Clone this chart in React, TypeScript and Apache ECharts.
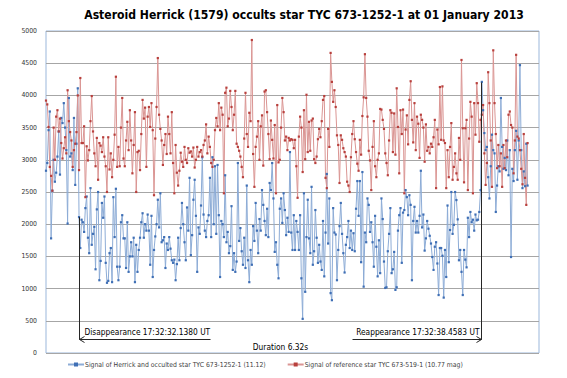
import React, { useEffect, useRef } from 'react';
import * as echarts from 'echarts';

const TITLE = 'Asteroid Herrick (1579) occults star TYC 673-1252-1 at 01 January 2013';
const SERIES_NAMES = [
  'Signal of Herrick and occulted star TYC 673-1252-1 (11.12)',
  'Signal of reference star TYC 673-519-1 (10.77 mag)',
];
const Y_MIN = 0;
const Y_MAX = 5000;
const Y_STEP = 500;
const X_MAX = 388;

const DISAPPEAR_INDEX = 26;
const REAPPEAR_INDEX = 342;
const REAPPEAR_LINE_TOP = 4200;
const ARROW_LEVEL = 217;
const DISAPPEAR_LABEL = 'Disappearance 17:32:32.1380 UT';
const REAPPEAR_LABEL = 'Reappearance 17:32:38.4583 UT';
const DURATION_LABEL = 'Duration 6.32s';

// Signal of Herrick + occulted star (frames 0..379)
const herrick = [
  2830, 2950, 3460, 3750, 1780, 2520, 3000, 2660, 2800, 3050,
  3440, 2770, 3650, 3570, 3880, 3500, 3150, 2010, 3960, 3050,
  3100, 2840, 3650, 2610, 3250, 4110,
  2110, 1630, 2070, 2030, 1880, 2250, 2430, 1790, 1550, 2560,
  1680, 1850, 1960, 1300, 2230, 2500, 1130, 1430, 2330, 2100,
  2430, 1400, 1090, 1120, 1550, 1630, 1100, 2420, 1800, 2550,
  1340, 1130, 1340, 2030, 2140, 1780, 1780, 1320, 2030, 1260,
  1500, 1720, 1500, 1790, 1100, 1680, 1260, 1600, 1790, 2030,
  2170, 1790, 2000, 1900, 2150, 1900, 1370, 2130, 1180, 1600,
  1810, 2000, 2380, 1950, 2480, 1720, 1750, 1800, 1320, 1700,
  1600, 1800, 1620, 1440, 1400, 1450, 1130, 1380, 1790, 1440,
  1940, 2330, 2000, 1720, 1440, 2260, 1900, 2720, 1520, 1830,
  2380, 2690, 2130, 1260, 1950, 1850, 2290, 3040, 2150, 1900,
  1800, 2050, 2140, 2720, 1800, 3040, 2000, 2900, 1850, 2920,
  2140, 1180, 2050, 2000, 1800, 2760, 1720, 1880, 1550, 1660,
  2280, 1290, 1550, 1260, 1420, 2950, 1740, 1940, 1580, 1370,
  1790, 1320, 2600, 1440, 1100, 1600, 1370, 1970, 1740, 2330,
  1900, 1550, 2080, 1900, 2530, 2300, 2050, 1830, 2240, 1800,
  2640, 2530, 2950, 2400, 1570, 1720, 1370, 1160, 2240, 2400,
  2020, 2480, 2220, 1830, 2100, 1880, 3120, 1870, 1600, 2140,
  1600, 2050, 1880, 1600, 2140, 1160, 530, 2480, 950, 1800,
  2380, 1780, 1550, 2580, 1370, 1580, 2220, 1790, 1400, 1680,
  1420, 1290, 2050, 1190, 1870, 2780, 1700, 2400, 930, 820,
  2250, 1870, 1840, 1130, 1600, 1970, 2330, 1850, 1550, 1250,
  1680, 1800, 2050, 1630, 1900, 1600, 1860, 1580, 2240, 2670,
  2130, 2670, 1410, 2810, 1030, 1870, 1720, 2400, 2300, 1880,
  2030, 1720, 1340, 2130, 1650, 1190, 1750, 1240, 2400, 2080,
  1420, 1010, 1020, 1580, 1850, 2250, 1240, 1300, 1570, 980,
  1020, 1900, 2140, 2250, 1400, 2180, 2220, 2530, 2420, 2140,
  2450, 2300, 1130, 2050, 2270, 1870, 2050, 1870, 2130, 2830,
  1950, 2150, 1590, 1780, 2050, 1930, 1820, 1700, 1490, 1290,
  1650, 1720, 1390, 900, 1630, 1630, 1510, 860, 1600, 1180,
  2290, 1410, 1910, 2500, 1850, 1990, 2500, 2375, 2075, 1440,
  1600, 1260, 900, 1600, 1450, 1330, 2100, 1800, 2190, 2030,
  2070, 1900, 2150, 2060, 2070, 2190, 2530,
  4210, 3770, 3415, 3150, 3200, 2730, 2400, 2900, 3390, 3150,
  3100, 2190, 2600, 2900, 2820, 3960, 3200, 2860, 3030, 2840,
  3300, 2760, 3150, 1490, 2860, 2670, 3150, 3450, 2690, 3300,
  4470, 3150, 2560, 2820, 2590, 3250, 2600,
];

// Signal of reference star (frames 0..379)
const reference = [
  3920, 3860, 3510, 2890, 2750, 2520, 3500, 3000, 3670, 3770,
  3440, 3640, 3260, 3020, 3180, 3350, 3100, 4080, 3600, 3430,
  3300, 2890, 3150, 3250, 3430, 4000, 2840, 4270, 3260, 3260,
  3520, 2420, 3210, 2990, 3150, 3600, 3990, 3440, 3100, 2900,
  3340, 2690, 3260, 3220, 3120, 3350, 3050, 2900, 2500, 3350,
  2850, 3100, 2730, 3000, 3390, 4290, 2890, 3200, 2900, 3500,
  3960, 3020, 2900, 3300, 3590, 3150, 3770, 3300, 2790, 3230,
  3740, 2500, 3120, 3140, 2840, 3400, 3930, 3640, 3810, 2890,
  3670, 3820, 3510, 3880, 3460, 2450, 3330, 3820, 4580, 3700,
  3480, 3300, 2920, 3230, 3400, 3090, 3670, 3400, 3100, 3740,
  2950, 2480, 3230, 2800, 2600, 2830, 3110, 2970, 2890, 3200,
  3000, 2950, 3180, 3110, 3130, 3050, 3190, 2880, 3000, 3200,
  3050, 3120, 3150, 3050, 3230, 3300, 3550, 3100, 3360, 3200,
  2950, 2890, 3000, 3460, 3650, 3520, 3880, 3460, 3810, 3700,
  2480, 4040, 4120, 3520, 3640, 4070, 3820, 3460, 3700, 4070,
  3250, 3200, 3140, 3050, 2890, 2730, 3330, 4040, 3400, 3200,
  3730, 3600, 4860, 3090, 2580, 3200, 3360, 3600, 3000, 3520,
  3690, 2910, 4060, 4080, 3740, 3400, 3010, 3610, 3310, 3020,
  3540, 2480, 3850, 2960, 3000, 3500, 3960, 3740, 3300, 3360,
  3150, 3340, 3300, 3320, 3310, 3180, 3310, 2900, 2410, 3360,
  3670, 3500, 2810, 3770, 3010, 4010, 3120, 3590, 3140, 3610,
  3640, 3010, 2950, 3050, 3320, 3480, 3350, 3600, 3930, 3990,
  2720, 2560, 3480, 3200, 4660, 4210, 3900, 4080, 3820, 3380,
  3230, 2640, 3380, 3310, 3180, 3120, 3050, 2660, 2600, 2500,
  3040, 3400, 3600, 3320, 3120, 2940, 2830, 3310, 3080, 3680,
  3970, 4640, 3960, 3670, 3140, 2990, 2530, 3200, 3600, 2900,
  2730, 3000, 3100, 3790, 3780, 3620, 3480, 3100, 2950, 2760,
  3300, 3770, 3730, 3120, 3720, 3080, 4110, 3510, 2790, 3770,
  3400, 3780, 2480, 3470, 3690, 3240, 3930, 4220, 3620, 3270,
  3880, 3150, 3670, 3560, 3030, 3700, 3620, 3500, 2970, 3550,
  3140, 3200, 3100, 3250, 3200, 3350, 3620, 2560, 3470, 3240,
  4130, 3310, 4140, 3300, 3260, 2560, 3150, 2730, 3200, 3570,
  2690, 2890, 3100, 2790, 2690, 3340, 3000, 4550, 3490, 2650,
  3490, 3620, 2530, 3330, 3900, 3670, 2480, 3880, 3390, 4190,
  3880, 3280, 3620, 3700, 3850, 3100, 2610, 2950, 4360, 3880,
  3300, 2580, 4700, 3880, 3400, 2870, 3230, 2900, 3100, 2580,
  3230, 2870, 3300, 3040, 3700, 3750, 3540, 3500, 2790, 3300,
  4630, 3360, 3330, 3150, 2860, 2620, 3400, 2720, 2300, 3260,
];

const NARROW = "'DejaVu Sans Condensed', 'Liberation Sans', sans-serif";

export default function App() {
  const ref = useRef<HTMLDivElement>(null);
  useEffect(() => {
    document.body.style.margin = '0';
    const chart = echarts.init(ref.current!, undefined, { renderer: 'svg' });
    const mkSeries = (name: string, data: number[], line: string, mark: string) => ({
      name,
      type: 'line',
      data: data.map((v, i) => [i, v]),
      showSymbol: true,
      showAllSymbol: true,
      symbol: 'rect',
      symbolSize: 2.2,
      itemStyle: { color: mark },
      lineStyle: { color: line, width: 1 },
      emphasis: { disabled: true },
      silent: true,
    });
    chart.setOption({
      animation: false,
      title: {
        text: TITLE,
        left: 299,
        top: 4,
        textAlign: 'center',
        textStyle: { fontFamily: NARROW, fontSize: 12.1, fontWeight: 'bold', color: '#000' },
      },
      grid: { left: 46, right: 28, top: 31, bottom: 25, show: true, borderColor: '#9BB7DB', borderWidth: 1 },
      xAxis: {
        type: 'value',
        min: 0,
        max: X_MAX,
        axisLine: { show: false },
        axisTick: { show: false },
        axisLabel: { show: false },
        splitLine: { show: false },
      },
      yAxis: {
        type: 'value',
        min: Y_MIN,
        max: Y_MAX,
        interval: Y_STEP,
        axisLine: { show: false },
        axisTick: { show: false },
        axisLabel: { fontFamily: NARROW, fontSize: 6.8, color: '#333', margin: 9, formatter: (v: number) => String(v) },
        splitLine: { lineStyle: { color: '#A6A6A6', width: 1 } },
      },
      legend: {
        bottom: 5,
        left: 62,
        itemGap: 21,
        itemWidth: 16,
        itemHeight: 5,
        textStyle: { fontFamily: NARROW, fontSize: 6.8, color: '#404040', padding: [0, 0, 0, -4] },
        data: SERIES_NAMES,
      },
      series: [
        mkSeries(SERIES_NAMES[0], herrick, '#8DACD6', '#3F6FB5'),
        mkSeries(SERIES_NAMES[1], reference, '#DA9593', '#B8403D'),
      ],
    });

    const px = (x: number, y: number) => chart.convertToPixel({ gridIndex: 0 }, [x, y]) as number[];
    const [dxr, dTop] = px(DISAPPEAR_INDEX, herrick[DISAPPEAR_INDEX]);
    const [rxr, rTop] = px(REAPPEAR_INDEX, REAPPEAR_LINE_TOP);
    const [, ayr] = px(0, ARROW_LEVEL);
    const dx = Math.round(dxr) + 0.5;
    const rx = Math.round(rxr) + 0.5;
    const ay = Math.round(ayr) + 0.5;
    const mid = (dx + rx) / 2;
    const stroke = '#262626';
    const lineStyle = { stroke, lineWidth: 1, fill: 'none' };
    const textFont = { fontFamily: NARROW, fontSize: 8.3, fill: '#000' };
    chart.setOption({
      graphic: [
        { type: 'line', z: 100, shape: { x1: dx, y1: dTop, x2: dx, y2: ay }, style: lineStyle },
        { type: 'line', z: 100, shape: { x1: rx, y1: rTop, x2: rx, y2: ay }, style: lineStyle },
        { type: 'line', z: 100, shape: { x1: dx, y1: ay, x2: rx, y2: ay }, style: lineStyle },
        { type: 'polyline', z: 100, shape: { points: [[dx + 5, ay - 3], [dx, ay], [dx + 5, ay + 3]] }, style: lineStyle },
        { type: 'polyline', z: 100, shape: { points: [[rx - 5, ay - 3], [rx, ay], [rx - 5, ay + 3]] }, style: lineStyle },
        { type: 'rect', z: 101, shape: { x: mid - 70, y: ay - 5, width: 142, height: 17 }, style: { fill: '#fff' } },
        {
          type: 'text', z: 102, x: mid, y: ay + 7,
          style: { ...textFont, text: DURATION_LABEL, align: 'center', verticalAlign: 'middle', textAlign: 'center', textVerticalAlign: 'middle' },
        },
        {
          type: 'text', z: 102, x: dx + 5, y: ay - 8,
          style: { ...textFont, text: DISAPPEAR_LABEL, align: 'left', verticalAlign: 'middle', textAlign: 'left', textVerticalAlign: 'middle' },
        },
        {
          type: 'text', z: 102, x: rx - 2, y: ay - 8,
          style: { ...textFont, text: REAPPEAR_LABEL, align: 'right', verticalAlign: 'middle', textAlign: 'right', textVerticalAlign: 'middle' },
        },
      ],
    });
    return () => chart.dispose();
  }, []);
  return <div ref={ref} style={{ width: 567, height: 378 }} />;
}
